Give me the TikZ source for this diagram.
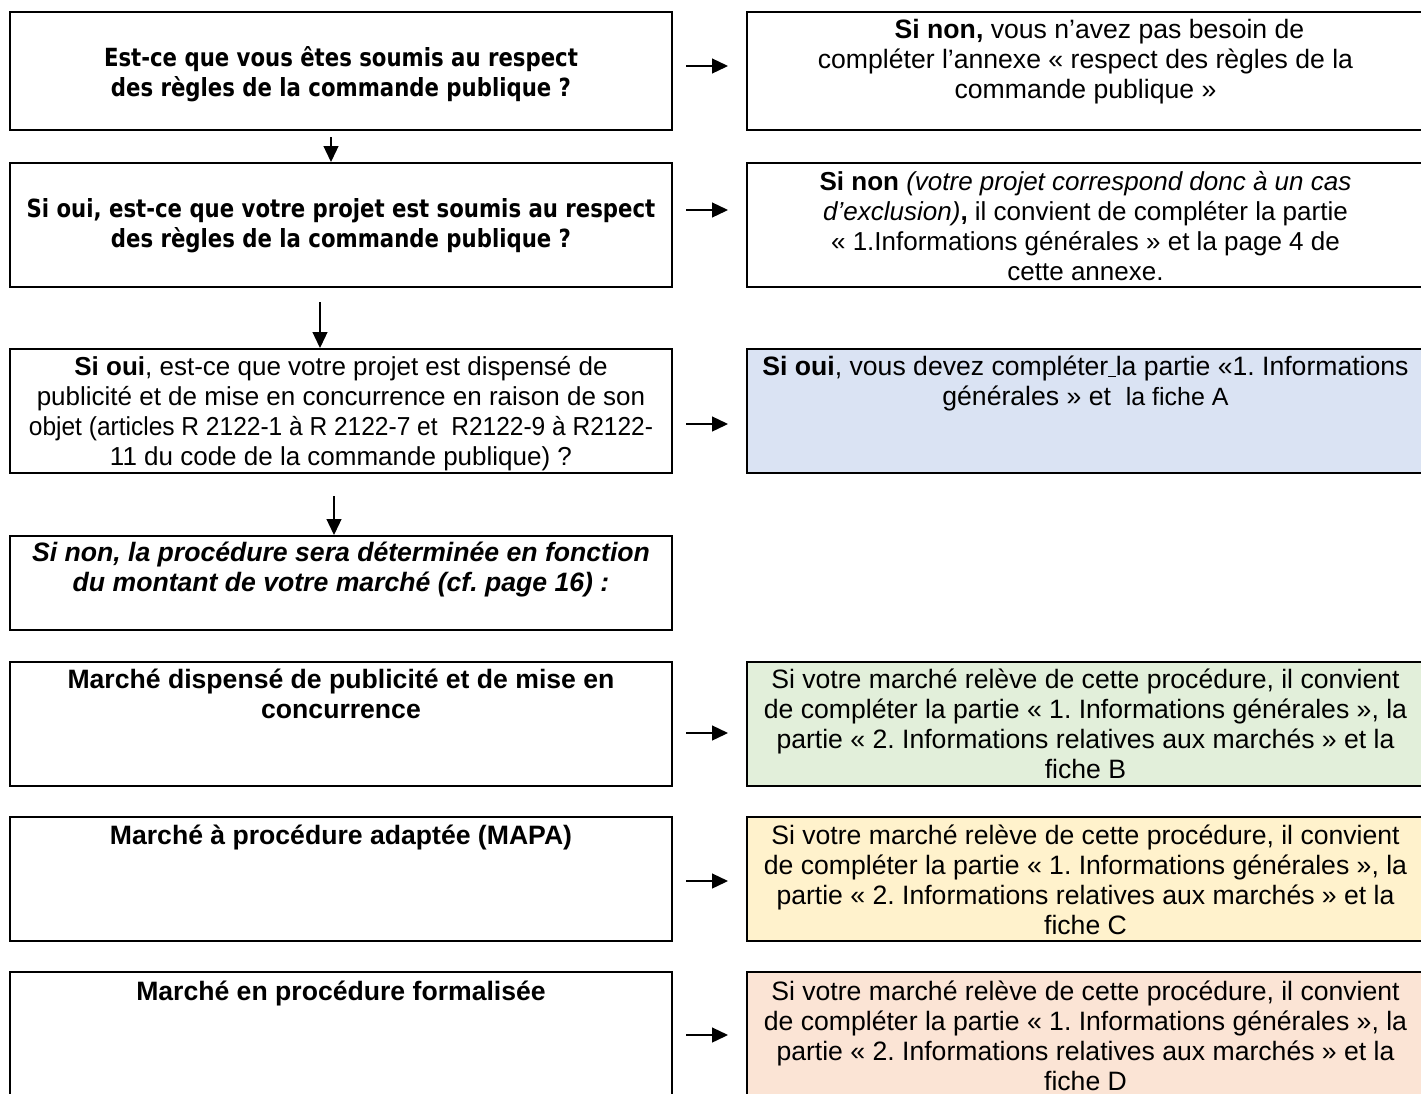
\documentclass[tikz,border=0pt]{standalone}
\usepackage{fontspec}
\usepackage{graphicx}
\setmainfont{Liberation Sans}
\newfontfamily\tahfont[FakeStretch=0.85]{DejaVu Sans}
\usetikzlibrary{arrows.meta}
\definecolor{cblue}{HTML}{DAE3F3}
\definecolor{cgreen}{HTML}{E2EFDA}
\definecolor{cyellow}{HTML}{FFF2CC}
\definecolor{cpink}{HTML}{FBE4D5}
\frenchspacing
\begin{document}
\frenchspacing
\begin{tikzpicture}[x=1pt,y=-1pt,
  box/.style={draw=black, line width=2pt, inner sep=0pt, rectangle},
  lbox/.style={box, minimum width=662pt},
  rbox/.style={box, minimum width=691pt},
  txt/.style={anchor=north, align=center, inner sep=0pt, font=\frenchspacing\fontsize{26.6}{30}\selectfont},
  stxt/.style={anchor=north, align=center, inner sep=0pt, font=\frenchspacing\fontsize{26}{30}\selectfont},
  btxt/.style={anchor=north, align=center, inner sep=0pt, font=\frenchspacing\bfseries\fontsize{26.6}{30}\selectfont},
  ltxt/.style={anchor=north, align=center, inner sep=0pt, font=\frenchspacing\tahfont\bfseries\fontsize{25}{30}\selectfont},
  arr/.style={line width=1.3pt, -{Triangle[length=16pt,width=15pt]}}]
\useasboundingbox (0,0) rectangle (1421,1093);
\clip (0,0) rectangle (1421,1093);

% boxes
\node[lbox, minimum height=118pt] (L1) at (341,71) {};
\node[rbox, minimum height=118pt] (R1) at (1092.5,71) {};
\node[lbox, minimum height=124pt] (L2) at (341,225) {};
\node[rbox, minimum height=124pt] (R2) at (1092.5,225) {};
\node[lbox, minimum height=124pt] (L3) at (341,411) {};
\node[rbox, fill=cblue, minimum height=124pt] (R3) at (1092.5,411) {};
\node[lbox, minimum height=94pt] (L4) at (341,583) {};
\node[lbox, minimum height=124pt] (L5) at (341,724) {};
\node[rbox, fill=cgreen, minimum height=124pt] (R5) at (1092.5,724) {};
\node[lbox, minimum height=124pt] (L6) at (341,879) {};
\node[rbox, fill=cyellow, minimum height=124pt] (R6) at (1092.5,879) {};
\node[lbox, minimum height=136pt] (L7) at (341,1040) {};
\node[rbox, fill=cpink, minimum height=136pt] (R7) at (1092.5,1040) {};

% texts
\node[ltxt] (tL1) at (341,45) {\strut Est-ce que vous êtes soumis au respect\\des règles de la commande publique ?};
\node[txt] (tR1) at (1085.5,17) {\strut\hspace*{28pt}\textbf{Si non,} vous n’avez pas besoin de\\compléter l’annexe « respect des règles de la\\commande publique »};
\node[ltxt] (tL2) at (341,196) {\strut Si oui, est-ce que votre projet est soumis au respect\\des règles de la commande publique ?};
\node[stxt] (tR2) at (1085.5,169) {\strut\textbf{Si non} \textit{(votre projet correspond donc à un cas}\\\textit{d’exclusion)}\textbf{,} il convient de compléter la partie\\« 1.Informations générales » et la page 4 de\\cette annexe.};
\node[stxt] (tL3) at (341,354) {\strut\textbf{Si oui}, est-ce que votre projet est dispensé de\\publicité et de mise en concurrence en raison de son\\\scalebox{0.943}[1]{objet (articles R 2122-1 à R 2122-7 et~ R2122-9 à R2122-}\\11 du code de la commande publique) ?};
\node[txt] (tR3) at (1085.5,354) {\strut\textbf{Si oui}, vous devez compléter\underline{\ }la partie «1. Informations\\générales » et~ {\fontsize{25}{30}\selectfont la fiche A}};
\node[txt, font=\frenchspacing\bfseries\itshape\fontsize{26.6}{30}\selectfont] (tL4) at (341,540) {\strut Si non, la procédure sera déterminée en fonction\\du montant de votre marché (cf. page 16) :};
\node[btxt] (tL5) at (341,667) {\strut Marché dispensé de publicité et de mise en\\concurrence};
\node[txt] (tR5) at (1085.5,667) {\strut Si votre marché relève de cette procédure, il convient\\de compléter la partie « 1. Informations générales », la\\partie « 2. Informations relatives aux marchés » et la\\fiche B};
\node[btxt] (tL6) at (341,823) {\strut Marché à procédure adaptée (MAPA)};
\node[txt] (tR6) at (1085.5,823) {\strut Si votre marché relève de cette procédure, il convient\\de compléter la partie « 1. Informations générales », la\\partie « 2. Informations relatives aux marchés » et la\\fiche C};
\node[btxt] (tL7) at (341,979) {\strut Marché en procédure formalisée};
\node[txt] (tR7) at (1085.5,979) {\strut Si votre marché relève de cette procédure, il convient\\de compléter la partie « 1. Informations générales », la\\partie « 2. Informations relatives aux marchés » et la\\fiche D};

% horizontal arrows
\draw[arr] ([xshift=13pt,yshift=5pt]L1.east) -- ([xshift=-18pt,yshift=5pt]R1.west);
\draw[arr] ([xshift=13pt,yshift=15pt]L2.east) -- ([xshift=-18pt,yshift=15pt]R2.west);
\draw[arr] ([xshift=13pt,yshift=-13pt]L3.east) -- ([xshift=-18pt,yshift=-13pt]R3.west);
\draw[arr] ([xshift=13pt,yshift=-9pt]L5.east) -- ([xshift=-18pt,yshift=-9pt]R5.west);
\draw[arr] ([xshift=13pt,yshift=-2pt]L6.east) -- ([xshift=-18pt,yshift=-2pt]R6.west);
\draw[arr] ([xshift=13pt,yshift=5pt]L7.east) -- ([xshift=-18pt,yshift=5pt]R7.west);

% vertical arrows
\draw[arr] ([xshift=-10pt,yshift=-6pt]L1.south) -- ([xshift=-10pt]L2.north);
\draw[arr] ([xshift=-21pt,yshift=-14pt]L2.south) -- ([xshift=-21pt]L3.north);
\draw[arr] ([xshift=-7pt,yshift=-22pt]L3.south) -- ([xshift=-7pt]L4.north);
\end{tikzpicture}
\end{document}
